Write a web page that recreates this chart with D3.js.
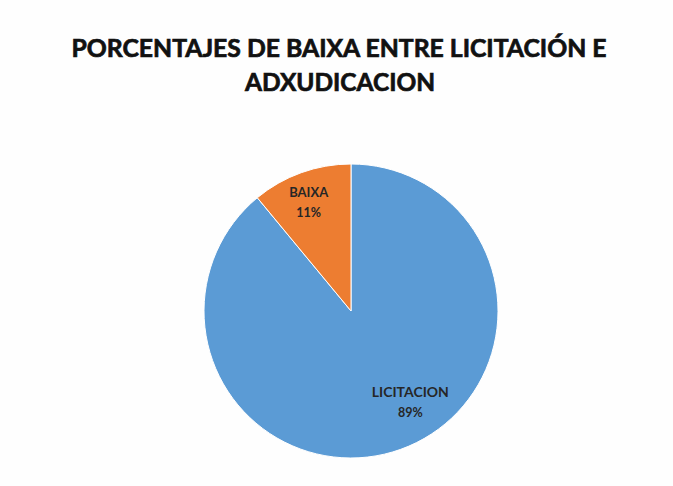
<!DOCTYPE html>
<html><head><meta charset="utf-8">
<script src="https://cdn.jsdelivr.net/npm/d3@7"></script>
<style>html,body{margin:0;padding:0;background:#fff;}</style>
</head><body>
<script>
const categories = ["LICITACION", "BAIXA"];
const values = [89, 11];
const colors = ["#5B9BD5", "#ED7D31"];
const titleLines = ["PORCENTAJES DE BAIXA ENTRE LICITACIÓN E", "ADXUDICACION"];

const W = 673, H = 486;
const svg = d3.select("body").append("svg").attr("width", W).attr("height", H);
svg.append("rect").attr("width", W).attr("height", H).attr("fill", "#fefefe");

const title = svg.append("g").attr("font-family", "Lato").attr("font-weight", "bold")
  .attr("font-size", 25).attr("fill", "#111").attr("stroke", "#111").attr("stroke-width", 0.7)
  .attr("text-anchor", "middle");
title.append("text").attr("x", 339).attr("y", 57)
  .attr("textLength", 535).attr("lengthAdjust", "spacingAndGlyphs")
  .text(titleLines[0]);
title.append("text").attr("x", 340).attr("y", 91)
  .attr("textLength", 190).attr("lengthAdjust", "spacingAndGlyphs")
  .text(titleLines[1]);

const cx = 351, cy = 311, r = 147;
const data = categories.map((c, i) => ({cat: c, value: values[i], color: colors[i]}));
const pie = d3.pie().value(d => d.value).sort(null);
const arc = d3.arc().innerRadius(0).outerRadius(r);
const arcs = pie(data);
const g = svg.append("g").attr("transform", `translate(${cx},${cy})`);
g.selectAll("path").data(arcs).join("path")
  .attr("d", arc).attr("fill", d => d.data.color)
  .attr("stroke", "#fff").attr("stroke-width", 1);

// label placement (Excel "best fit"): angle shift (deg) and radius fraction per slice
const labelAngleShift = [-16, 0];
const labelRadiusFrac = [0.69, 0.85];
const lab = g.selectAll("g.lab").data(arcs).join("g").attr("class", "lab")
  .attr("transform", (d, i) => {
    const a = (d.startAngle + d.endAngle) / 2 + labelAngleShift[i] * Math.PI / 180;
    const rr = r * labelRadiusFrac[i];
    return `translate(${rr * Math.sin(a)},${-rr * Math.cos(a)})`;
  });
const lt = lab.append("g").attr("font-family", "Lato").attr("font-weight", "bold")
  .attr("font-size", 12.5).attr("fill", "#262626").attr("text-anchor", "middle");
lt.append("text").attr("y", 4).attr("textLength", (d, i) => i === 0 ? 77 : 39)
  .attr("lengthAdjust", "spacingAndGlyphs").text(d => d.data.cat);
lt.append("text").attr("y", 24).text(d => d.data.value + "%");
</script>
</body></html>
